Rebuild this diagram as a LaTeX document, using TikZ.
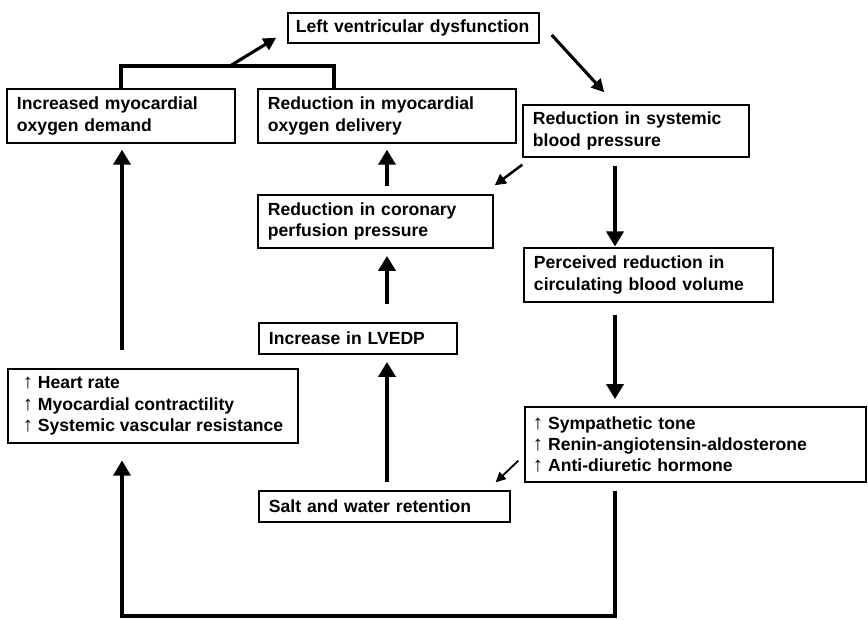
\documentclass[tikz,border=0pt]{standalone}
\usepackage{fontspec}
\setmainfont{Liberation Sans}
\usetikzlibrary{arrows.meta, positioning}

\newcommand{\uparr}{{\mdseries\fontsize{14.5}{15.2}\selectfont ↑}\hspace{3.5pt}}

\begin{document}
\begin{tikzpicture}[x=0.025cm, y=-0.025cm,
    box/.style={draw, line width=1pt, rectangle, inner xsep=0.25cm, inner ysep=0pt,
                align=left, font=\fontsize{12.5}{15.2}\selectfont\bfseries},
    flow/.style={line width=2.6pt, -{Triangle[length=0.375cm, width=0.425cm]},
                 shorten <=0.2cm, shorten >=0.18cm},
    midflow/.style={line width=2pt, -{Triangle[length=0.32cm, width=0.32cm]}},
    thinflow/.style={line width=1.3pt, -{Triangle[length=0.25cm, width=0.24cm]}}
]
    \useasboundingbox (0,0) rectangle (868,619);

    % --- Boxes ---
    \node[box, inner xsep=0.2cm, text width=5.875cm, minimum height=0.75cm] (lvd) at (413.5, 28)
        {Left ventricular dysfunction};
    \node[box, text width=5.2cm,   minimum height=1.35cm]  (imod)  at (121,116)     {Increased myocardial\\oxygen demand};
    \node[box, text width=5.95cm,  minimum height=1.35cm]  (rmod)  at (387,116)     {Reduction in myocardial\\oxygen delivery};
    \node[box, text width=5.15cm,  minimum height=1.3cm]   (rsbp)  at (636,131)     {Reduction in systemic\\blood pressure};
    \node[box, text width=5.375cm, minimum height=1.325cm] (rcpp)  at (375.5,221.5) {Reduction in coronary\\perfusion pressure};
    \node[box, text width=5.725cm, minimum height=1.35cm]  (prcbv) at (648.5,275)   {Perceived reduction in\\circulating blood volume};
    \node[box, text width=4.45cm,  minimum height=0.775cm] (lvedp) at (358,338.5)   {Increase in LVEDP};
    \node[box, inner xsep=0.1cm, minimum width=7.25cm, minimum height=1.85cm] (hr) at (153,406)
        {\uparr Heart rate\\\uparr Myocardial contractility\\\uparr Systemic vascular resistance};
    \node[box, inner xsep=0.2cm, text width=8.125cm, minimum height=1.875cm] (st) at (695.5,444.5)
        {\uparr Sympathetic tone\\\uparr Renin-angiotensin-aldosterone\\\uparr Anti-diuretic hormone};
    \node[box, text width=5.775cm, minimum height=0.775cm] (swr)   at (384.5,506.5) {Salt and water retention};

    % --- Helper coordinates ---
    \coordinate (brl)  at (121,66);
    \coordinate (brr)  at (334,66);
    \coordinate (brm)  at (230,66);
    \coordinate (lcol) at (122,616);
    \coordinate (mcol) at (387,0);
    \coordinate (rcol) at (615,616);

    % --- Connectors ---
    \draw[line width=2.2pt] (imod.north -| brl) -- (brl) -- (brr) -- (rmod.north -| brr);
    \draw[midflow, line width=2.2pt] (brm) -- ([xshift=-0.275cm, yshift=0.15cm]lvd.south west);
    \draw[midflow, line width=2.2pt]
        ([xshift=0.3cm, yshift=-0.175cm]lvd.east) -- ([xshift=2.05cm, yshift=0.3cm]rsbp.north west);
    \draw[midflow, line width=1.8pt, -{Triangle[length=0.28cm, width=0.28cm]}]
        ([yshift=-0.175cm]rsbp.south west) -- ([xshift=0.025cm, yshift=0.225cm]rcpp.north east);
    \draw[thinflow]
        ([xshift=-0.15cm, yshift=0.55cm]st.south west) -- ([xshift=-0.375cm, yshift=0.2cm]swr.north east);

    \draw[flow, shorten <=0.45cm, shorten >=0.15cm] (hr.north -| lcol) -- (imod.south -| lcol);
    \draw[flow, shorten <=0.2cm] (swr.north -| mcol)   -- (lvedp.south -| mcol);
    \draw[flow, shorten <=0.45cm] (lvedp.north -| mcol) -- (rcpp.south -| mcol);
    \draw[flow, shorten <=0.2cm, shorten >=0.15cm] (rcpp.north -| mcol)  -- (rmod.south -| mcol);
    \draw[flow, shorten >=0.02cm] (rsbp.south -| rcol)  -- (prcbv.north -| rcol);
    \draw[flow, shorten <=0.3cm] (prcbv.south -| rcol) -- (st.north -| rcol);
    \draw[flow, line width=2.2pt, shorten >=0.42cm] (st.south -| rcol) -- (rcol) -- (lcol) -- (hr.south -| lcol);
\end{tikzpicture}
\end{document}
